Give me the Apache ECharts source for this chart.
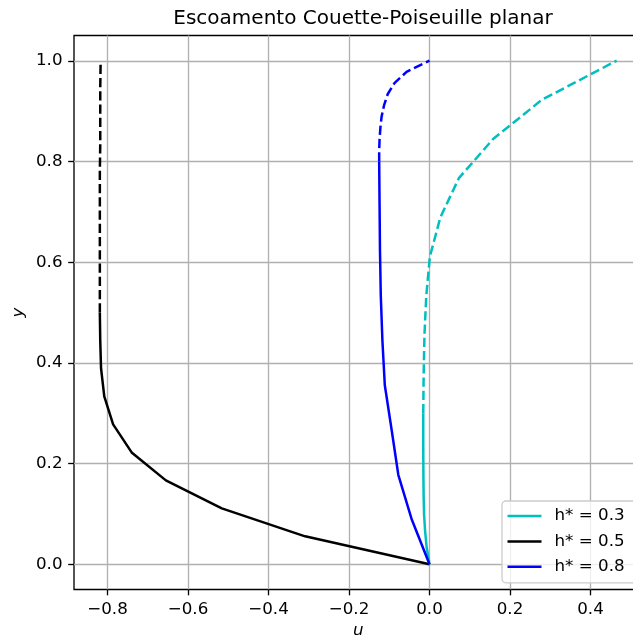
<!DOCTYPE html>
<html>
<head>
<meta charset="utf-8">
<script src="https://cdn.jsdelivr.net/npm/echarts@6/dist/echarts.min.js"></script>
<style>html,body{margin:0;padding:0;background:#fff;}#c{width:633px;height:642px;}</style>
</head>
<body>
<div id="c"></div>
<script>
// h* = 0.3 (cyan)
const y03Solid = [0, 0.0333, 0.0667, 0.1, 0.1333, 0.1667, 0.2, 0.2333, 0.2667, 0.3];
const u03Solid = [0, -0.007, -0.011, -0.0135, -0.0145, -0.015, -0.0153, -0.0155, -0.0155, -0.0155];
const y03Dash = [0.3, 0.3778, 0.4556, 0.5333, 0.6111, 0.6889, 0.7667, 0.8444, 0.9222, 1.0];
const u03Dash = [-0.0155, -0.0145, -0.0125, -0.008, 0.001, 0.027, 0.073, 0.158, 0.279, 0.465];
// h* = 0.5 (black)
const y05Solid = [0, 0.0556, 0.1111, 0.1667, 0.2222, 0.2778, 0.3333, 0.3889, 0.4444, 0.5];
const u05Solid = [0, -0.309, -0.516, -0.655, -0.740, -0.786, -0.808, -0.816, -0.818, -0.819];
const y05Dash = [0.5, 0.5556, 0.6111, 0.6667, 0.7222, 0.7778, 0.8333, 0.8889, 0.9444, 1.0];
const u05Dash = [-0.819, -0.819, -0.819, -0.819, -0.819, -0.819, -0.818, -0.818, -0.818, -0.817];
// h* = 0.8 (blue)
const y08Solid = [0, 0.0889, 0.1778, 0.2667, 0.3556, 0.4444, 0.5333, 0.6222, 0.7111, 0.8];
const u08Solid = [0, -0.044, -0.0775, -0.094, -0.111, -0.117, -0.121, -0.123, -0.124, -0.125];
const y08Dash = [0.8, 0.8222, 0.8444, 0.8667, 0.8889, 0.9111, 0.9333, 0.9556, 0.9778, 1.0];
const u08Dash = [-0.125, -0.125, -0.124, -0.122, -0.119, -0.113, -0.104, -0.087, -0.057, 0.0];

const seriesNames = ['h* = 0.3', 'h* = 0.5', 'h* = 0.8'];
const seriesColors = ['#00bfbf', '#000000', '#0000ff'];
const xTickMin = -0.8, xTickMax = 0.4, tickStep = 0.2;
const yTickMin = 0.0, yTickMax = 1.0;

const FONT = 'DejaVu Sans';
const zip = (u, y) => u.map((v, i) => [v, y[i]]);
const fmt = v => v.toFixed(1).replace('-', '\u2212');

const groups = [
  [u03Solid, y03Solid, u03Dash, y03Dash],
  [u05Solid, y05Solid, u05Dash, y05Dash],
  [u08Solid, y08Solid, u08Dash, y08Dash]
];
const series = [];
groups.forEach((g, i) => {
  series.push({
    name: seriesNames[i], type: 'line', xAxisIndex: 0, yAxisIndex: 0,
    data: zip(g[0], g[1]), symbol: 'none', showSymbol: false, smooth: false,
    lineStyle: { color: seriesColors[i], width: 2.5 }, itemStyle: { color: seriesColors[i] },
    z: 3 + i
  });
});
groups.forEach((g, i) => {
  series.push({
    name: seriesNames[i] + ' (d)', type: 'line', xAxisIndex: 0, yAxisIndex: 0,
    data: zip(g[2], g[3]), symbol: 'none', showSymbol: false, smooth: false,
    lineStyle: { color: seriesColors[i], width: 2.5, type: [9.25, 4], cap: 'butt' },
    itemStyle: { color: seriesColors[i] },
    z: 3 + i
  });
});

const chart = echarts.init(document.getElementById('c'), null, { renderer: 'canvas' });
const hidden = { show: false };
const hiddenLine = { show: false, onZero: false };
chart.setOption({
  animation: false,
  backgroundColor: '#ffffff',
  title: {
    text: 'Escoamento Couette-Poiseuille planar',
    left: 358, top: 4, textAlign: 'center',
    textStyle: { fontFamily: FONT, fontSize: 20, fontWeight: 'normal', color: '#000' }
  },
  grid: [
    { left: 74, right: -9.5, top: 35.5, bottom: 52.5, show: true, borderColor: '#000', borderWidth: 1.33,
      backgroundColor: 'transparent', containLabel: false, outerBoundsMode: 'none' },
    { left: 107.5, right: 42.5, top: 35.5, bottom: 52.5, show: false, containLabel: false, outerBoundsMode: 'none' },
    { left: 74, right: -9.5, top: 61, bottom: 77.7, show: false, containLabel: false, outerBoundsMode: 'none' }
  ],
  xAxis: [
    { type: 'value', gridIndex: 0, min: -0.8832, max: 0.5292, name: 'u', nameLocation: 'middle', nameGap: 33,
      nameTextStyle: { fontFamily: FONT, fontSize: 16.7, fontStyle: 'italic', color: '#000' },
      axisLine: hiddenLine, axisTick: hidden, axisLabel: hidden, splitLine: hidden },
    { type: 'value', gridIndex: 1, min: xTickMin, max: xTickMax, interval: tickStep,
      axisLine: hiddenLine,
      axisTick: { show: true, inside: false, length: 5.8, lineStyle: { color: '#000', width: 1.33 } },
      axisLabel: { margin: 11.5, fontFamily: FONT, fontSize: 16.7, color: '#000', formatter: fmt },
      splitLine: { show: true, lineStyle: { color: '#b0b0b0', width: 1.33 } } },
    { type: 'value', gridIndex: 2, min: -1, max: 1, show: false, axisLine: hiddenLine }
  ],
  yAxis: [
    { type: 'value', gridIndex: 0, min: -0.05, max: 1.05, name: 'y', nameLocation: 'middle', nameGap: 47, nameRotate: 90,
      nameTextStyle: { fontFamily: FONT, fontSize: 16.7, fontStyle: 'italic', color: '#000' },
      axisLine: hiddenLine, axisTick: hidden, axisLabel: hidden, splitLine: hidden },
    { type: 'value', gridIndex: 1, min: 0, max: 1, show: false, axisLine: hiddenLine },
    { type: 'value', gridIndex: 2, min: yTickMin, max: yTickMax, interval: tickStep,
      axisLine: hiddenLine,
      axisTick: { show: true, inside: false, length: 5.8, lineStyle: { color: '#000', width: 1.33 } },
      axisLabel: { margin: 11.5, fontFamily: FONT, fontSize: 16.7, color: '#000', formatter: fmt },
      splitLine: { show: true, lineStyle: { color: '#b0b0b0', width: 1.33 } } }
  ],
  legend: {
    data: seriesNames,
    icon: 'rect',
    orient: 'vertical', left: 502, top: 501,
    itemWidth: 34, itemHeight: 2.5, itemGap: 5.4,
    padding: [5, 12, 6, 5.5],
    backgroundColor: 'rgba(255,255,255,0.8)', borderColor: '#cccccc', borderWidth: 1.33, borderRadius: 4,
    textStyle: { fontFamily: FONT, fontSize: 16.7, color: '#000', padding: [0, 0, 0, 8], lineHeight: 20 },
    z: 10
  },
  series: series
});
</script>
</body>
</html>
